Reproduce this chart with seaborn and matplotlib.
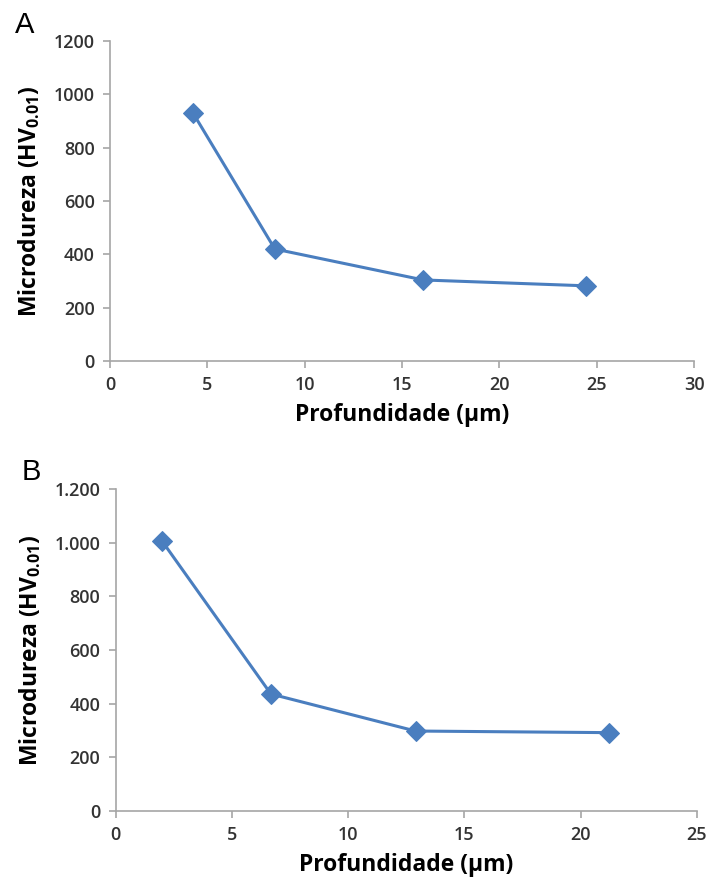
import matplotlib
matplotlib.use("Agg")
import matplotlib.pyplot as plt
import seaborn as sns
import pandas as pd
from matplotlib.ticker import FuncFormatter

# Microhardness profiles versus depth for two treated samples
depth_a = [4.26, 8.47, 16.09, 24.45]
hardness_a = [931, 420, 304, 282]
depth_b = [2.0, 6.68, 12.9, 21.2]
hardness_b = [1006, 436, 298, 292]

xticks_a = [0, 5, 10, 15, 20, 25, 30]
xticks_b = [0, 5, 10, 15, 20, 25]
yticks = [0, 200, 400, 600, 800, 1000, 1200]

sns.set_theme(style="white")
plt.rcParams["font.family"] = ["Open Sans", "DejaVu Sans"]

line_color = "#4A7EBF"
axis_color = "#A6A6A6"
text_color = "#333333"

fig = plt.figure(figsize=(7.09, 8.84), dpi=100)
ax_a = fig.add_axes([0.155, 0.5916, 0.824, 0.362])
ax_b = fig.add_axes([0.163, 0.0826, 0.820, 0.3642])


def draw_panel(ax, x, y, xticks, xmax, ylab_fmt, letter, letter_xy):
    df = pd.DataFrame({"depth": x, "hv": y})
    sns.lineplot(data=df, x="depth", y="hv", ax=ax, color=line_color,
                 linewidth=2.2, marker="D", markersize=10,
                 markeredgecolor=line_color, markerfacecolor=line_color)
    ax.set_xlim(0, xmax)
    ax.set_ylim(0, 1200)
    ax.set_xticks(xticks)
    ax.set_yticks(yticks)
    ax.yaxis.set_major_formatter(FuncFormatter(ylab_fmt))
    for side in ("top", "right"):
        ax.spines[side].set_visible(False)
    for side in ("left", "bottom"):
        ax.spines[side].set_color(axis_color)
        ax.spines[side].set_linewidth(1.2)
    ax.tick_params(axis="both", which="major", direction="out", length=5,
                   width=1.2, color=axis_color, labelsize=13,
                   labelcolor=text_color, pad=6, left=True, bottom=True)
    for lab in ax.get_xticklabels() + ax.get_yticklabels():
        lab.set_fontweight("semibold")
    ax.set_xlabel("Profundidade (µm)", fontsize=16.5, fontweight="bold",
                  color="black", labelpad=6)
    ax.set_ylabel("Microdureza (HV$_{\\mathregular{0.01}}$)", fontsize=16.5,
                  fontweight="bold", color="black", labelpad=8)
    ax.text(letter_xy[0], letter_xy[1], letter, transform=ax.transAxes,
            fontsize=21, family=["Liberation Sans", "DejaVu Sans"],
            color="black", ha="left", va="baseline")


draw_panel(ax_a, depth_a, hardness_a, xticks_a, 30,
           lambda v, p: f"{int(v)}", "A", (-0.163, 1.025))
draw_panel(ax_b, depth_b, hardness_b, xticks_b, 25,
           lambda v, p: f"{int(v):,}".replace(",", "."), "B", (-0.161, 1.028))

fig.savefig("out.png", dpi=100, facecolor="white")
